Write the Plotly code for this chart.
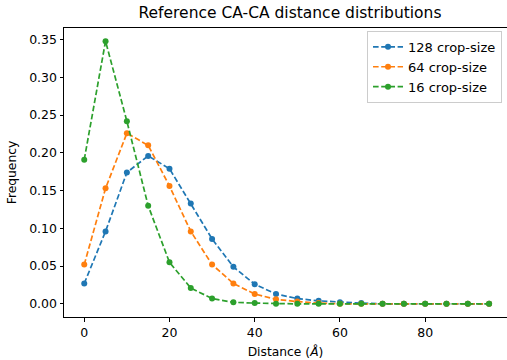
import plotly.graph_objects as go

distance = [0, 5, 10, 15, 20, 25, 30, 35, 40, 45, 50, 55, 60, 65, 70, 75, 80, 85, 90, 95]
freq_128 = [0.027, 0.096, 0.174, 0.196, 0.179, 0.133, 0.086, 0.049, 0.026, 0.013, 0.007, 0.004, 0.002, 0.001, 0.0, 0.0, 0.0, 0.0, 0.0, 0.0]
freq_64 = [0.052, 0.153, 0.226, 0.210, 0.156, 0.096, 0.052, 0.027, 0.013, 0.006, 0.003, 0.001, 0.0, 0.0, 0.0, 0.0, 0.0, 0.0, 0.0, 0.0]
freq_16 = [0.191, 0.348, 0.242, 0.130, 0.055, 0.021, 0.007, 0.002, 0.001, 0.0, 0.0, 0.0, 0.0, 0.0, 0.0, 0.0, 0.0, 0.0, 0.0, 0.0]
series_names = ["128 crop-size", "64 crop-size", "16 crop-size"]
colors = ["#1f77b4", "#ff7f0e", "#2ca02c"]

fig = go.Figure()
for name, ys, c in zip(series_names, [freq_128, freq_64, freq_16], colors):
    fig.add_trace(go.Scatter(
        x=distance, y=ys, name=name, mode="lines+markers",
        line=dict(color=c, width=1.7, dash="5.6px,2.6px"),
        marker=dict(color=c, size=6),
    ))

font = "DejaVu Sans, sans-serif"
axis_common = dict(
    showline=True, linecolor="black", linewidth=1, mirror=True,
    ticks="outside", ticklen=3.5, tickwidth=1, tickcolor="black",
    showgrid=False, zeroline=False, tickfont=dict(size=12.5, color="black"),
    automargin=False,
)
fig.update_layout(
    width=507, height=360,
    margin=dict(l=64, r=0, t=28, b=43),
    paper_bgcolor="white", plot_bgcolor="white",
    font=dict(family=font, color="black"),
    title=dict(text="Reference CA-CA distance distributions", x=0.572, xanchor="center",
               y=0.966, yanchor="middle", font=dict(size=15.5)),
    xaxis=dict(range=[-4.75, 99.2], tickvals=[0, 20, 40, 60, 80],
               title=dict(text="Distance (<i>Å</i>)", font=dict(size=12.3), standoff=8), **axis_common),
    yaxis=dict(range=[-0.0174, 0.3654], tickvals=[0, 0.05, 0.1, 0.15, 0.2, 0.25, 0.3, 0.35],
               tickformat=".2f",
               title=dict(text="Frequency", font=dict(size=12.3), standoff=9), **axis_common),
    legend=dict(x=0.684, y=0.99, xanchor="left", yanchor="top",
                bordercolor="#cccccc", borderwidth=1, bgcolor="rgba(255,255,255,0.8)",
                font=dict(size=13), tracegroupgap=0),
    showlegend=True,
)
fig.write_html("out.html", config={"displayModeBar": False},
               post_script="document.body.style.margin='0';document.body.style.overflow='hidden';")
